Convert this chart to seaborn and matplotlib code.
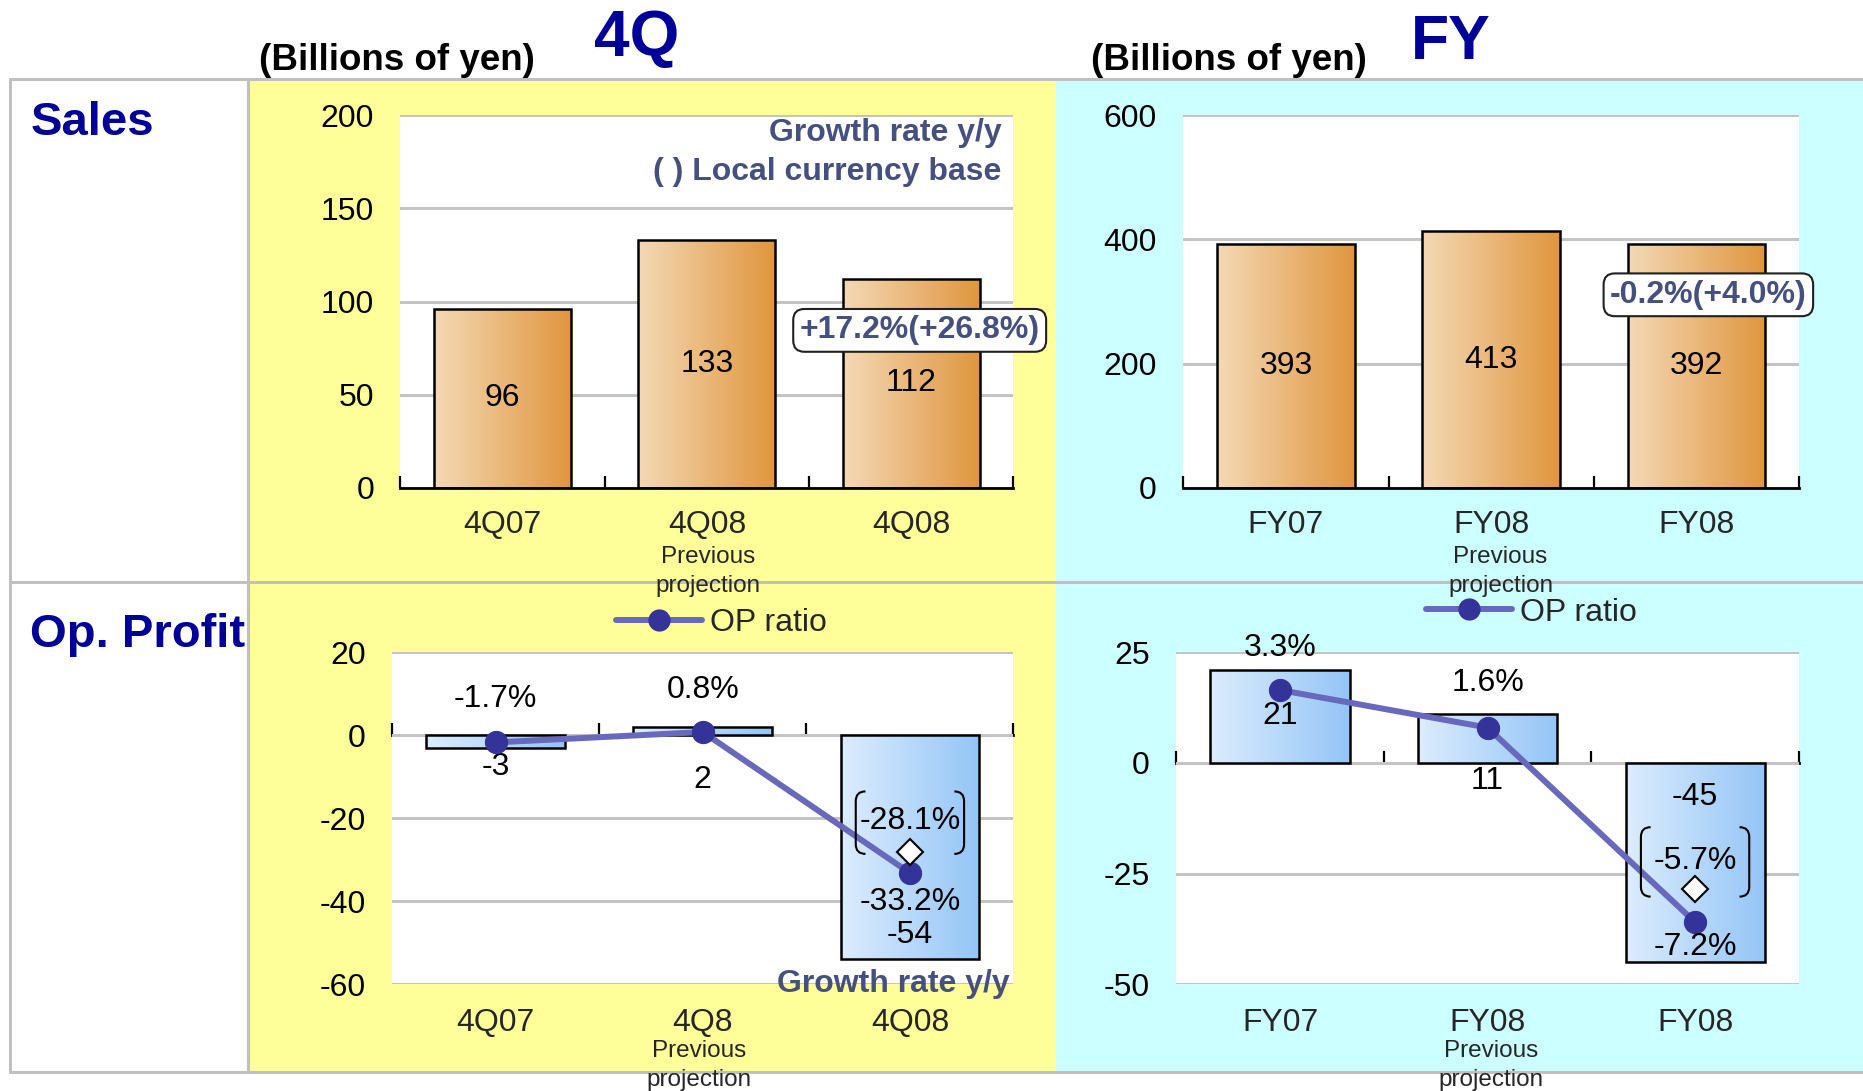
import numpy as np
import matplotlib
matplotlib.use("Agg")
import matplotlib.pyplot as plt
import seaborn as sns
from matplotlib.colors import LinearSegmentedColormap
from matplotlib.path import Path
from matplotlib.patches import PathPatch, Rectangle
from matplotlib.lines import Line2D
import matplotlib.transforms as mtransforms

# ---------------- data ----------------
q_sales_labels = ["4Q07", "4Q08", "4Q08"]
q_sales = [96, 133, 112]
q_sales_growth = "+17.2%(+26.8%)"

q_op_labels = ["4Q07", "4Q8", "4Q08"]
q_op = [-3, 2, -54]
q_op_ratio = [-1.7, 0.8, -33.2]
q_op_ratio_prev = -28.1

fy_labels = ["FY07", "FY08", "FY08"]
fy_sales = [393, 413, 392]
fy_sales_growth = "-0.2%(+4.0%)"

fy_op = [21, 11, -45]
fy_op_ratio = [3.3, 1.6, -7.2]
fy_op_ratio_prev = -5.7

sub_label = ["Previous", "projection"]

# ---------------- style ----------------
sns.set_theme(style="white")
plt.rcParams["font.family"] = ["Liberation Sans", "DejaVu Sans"]
plt.rcParams["axes.unicode_minus"] = False

FS = 23
NAVY = "#000099"
SLATE = "#46507e"
LINE_C = "#6868bc"
MARK_C = "#333399"
GRID_C = "#c4c4c4"
BORDER_C = "#c0c0c0"

W, H = 1568, 918  # reference grid


def fx(x):
    return x / W


def fy(y):
    return 1 - y / H


def rect(x0, y0, x1, y1):
    return [fx(x0), fy(y1), fx(x1) - fx(x0), fy(y0) - fy(y1)]


fig = plt.figure(figsize=(18.63, 10.91), dpi=100)

# ---------------- table background ----------------
for (x0, x1, c) in [(8, 208.5, "white"), (208.5, 889, "#ffff99"), (889, 1568, "#ccffff")]:
    fig.add_artist(Rectangle((fx(x0), fy(902)), fx(x1) - fx(x0), fy(66.7) - fy(902),
                             transform=fig.transFigure, fc=c, ec="none", zorder=-5))
for yy in (66.7, 490, 902):
    fig.add_artist(Line2D([fx(8), 1], [fy(yy), fy(yy)], transform=fig.transFigure,
                          color=BORDER_C, lw=2.2, zorder=-4))
for xx in (8, 208.5):
    fig.add_artist(Line2D([fx(xx), fx(xx)], [fy(66.7), fy(902)], transform=fig.transFigure,
                          color=BORDER_C, lw=2.2, zorder=-4))


def gradient_bars(ax, colors):
    cmap = LinearSegmentedColormap.from_list("g", colors)
    grad = np.linspace(0, 1, 256).reshape(1, -1)
    for p in list(ax.patches):
        x0, y0 = p.get_x(), p.get_y()
        w, h = p.get_width(), p.get_height()
        im = ax.imshow(grad, extent=[x0, x0 + w, min(y0, y0 + h), max(y0, y0 + h)],
                       cmap=cmap, aspect="auto", zorder=p.get_zorder(), interpolation="bilinear")
        im.set_clip_path(p)
        p.set_facecolor("none")
        p.set_zorder(p.get_zorder() + 0.1)


def style_axes(ax, yticks, ylim):
    ax.set_facecolor("white")
    for s in ["left", "right", "top"]:
        ax.spines[s].set_visible(False)
    ax.set_xlim(-0.5, 2.5)
    ax.set_ylim(*ylim)
    ax.set_yticks(yticks)
    ax.yaxis.grid(True, color=GRID_C, lw=2.2)
    ax.xaxis.grid(False)
    ax.set_axisbelow(True)
    ax.tick_params(axis="y", length=0, pad=19, labelsize=FS, colors="black")
    ax.set_xlabel("")
    ax.set_ylabel("")


def sales_panel(pos, values, labels, yticks, ylim, growth, box_xy):
    ax = fig.add_axes(rect(*pos))
    n = len(values)
    sns.barplot(x=list(range(n)), y=values, ax=ax, color="#e8b070", width=0.67,
                edgecolor="black", linewidth=1.8, saturation=1)
    ax.bar_label(ax.containers[0], labels=[str(v) for v in values], label_type="center",
                 fontsize=FS, color="black")
    gradient_bars(ax, ["#f4d9b6", "#e0963e"])
    style_axes(ax, yticks, ylim)
    ax.spines["bottom"].set_color("black")
    ax.spines["bottom"].set_linewidth(2)
    ax.set_xticks(range(n), labels)
    ax.set_xticks(np.arange(n + 1) - 0.5, minor=True)
    ax.tick_params(axis="x", which="major", length=0, pad=16, labelsize=FS)
    ax.tick_params(axis="x", which="minor", bottom=True, direction="in", length=8.6,
                   width=1.6, color="black")
    ax.text(box_xy[0], box_xy[1], growth, transform=ax.transAxes, ha="center", va="center",
            fontsize=FS, weight="bold", color=SLATE,
            bbox=dict(boxstyle="round,pad=0.2,rounding_size=0.35", fc="white",
                      ec="#202020", lw=1.5))
    return ax


def bracket(ax, x, y, dy, hw, hh, r=7):
    trans = mtransforms.Affine2D().scale(fig.dpi / 72) + \
        mtransforms.ScaledTranslation(x, y, ax.transData)
    for sgn in (-1, 1):
        X = sgn * hw
        verts = [(X - sgn * r, dy + hh), (X, dy + hh), (X, dy + hh - r),
                 (X, dy - hh + r), (X, dy - hh), (X - sgn * r, dy - hh)]
        codes = [Path.MOVETO, Path.CURVE3, Path.CURVE3, Path.LINETO, Path.CURVE3, Path.CURVE3]
        fig.add_artist(PathPatch(Path(verts, codes), transform=trans, fc="none",
                                 ec="black", lw=1.5, zorder=3))


def op_panel(pos, values, labels, ratios, prev, yticks, ylim, ylim2,
             val_offsets, ratio_offsets, prev_offset, br_hh, legend_xy):
    ax = fig.add_axes(rect(*pos))
    n = len(values)
    sns.barplot(x=list(range(n)), y=values, ax=ax, color="#bcdcfa", width=0.67,
                edgecolor="black", linewidth=1.8, saturation=1)
    gradient_bars(ax, ["#dcedfd", "#94c5f7"])
    style_axes(ax, yticks, ylim)
    ax.spines["bottom"].set_visible(False)
    ax.set_xticks(range(n), labels)
    ax.tick_params(axis="x", which="major", length=0, pad=17, labelsize=FS)
    # zero line with category-boundary ticks
    sec = ax.secondary_xaxis((0 - ylim[0]) / (ylim[1] - ylim[0]))
    sec.set_xticks(np.arange(n + 1) - 0.5)
    sec.tick_params(axis="x", which="both", top=True, bottom=False, labeltop=False,
                    labelbottom=False, direction="out", length=8.6, width=1.6, color="black")
    for s in sec.spines.values():
        s.set_color("black")
        s.set_linewidth(2)
    for i, v in enumerate(values):
        ax.annotate(str(v), xy=(i, v), xytext=(0, val_offsets[i]), textcoords="offset points",
                    ha="center", va="center", fontsize=FS, color="black")

    ax2 = ax.twinx()
    sns.lineplot(x=list(range(n)), y=ratios, ax=ax2, color=LINE_C, lw=4.3, marker="o",
                 markersize=16, markerfacecolor=MARK_C, markeredgecolor=MARK_C, sort=False)
    ax2.plot([n - 1], [prev], ls="none", marker="D", ms=13, mfc="white", mec="black",
             mew=1.5)
    ax2.set_ylim(*ylim2)
    ax2.set_xlim(-0.5, 2.5)
    ax2.set_yticks([])
    ax2.set_ylabel("")
    for s in ax2.spines.values():
        s.set_visible(False)
    for i, r in enumerate(ratios):
        ax2.annotate(f"{r:.1f}%", xy=(i, r), xytext=(0, ratio_offsets[i]),
                     textcoords="offset points", ha="center", va="center", fontsize=FS,
                     color="black")
    ax2.annotate(f"{prev:.1f}%", xy=(n - 1, prev), xytext=(0, prev_offset),
                 textcoords="offset points", ha="center", va="center", fontsize=FS,
                 color="black")
    bracket(ax2, n - 1, prev, prev_offset - 1, 39, br_hh)

    h = Line2D([], [], color=LINE_C, lw=4.3, marker="o", ms=15, mfc=MARK_C, mec=MARK_C)
    fig.legend([h], ["OP ratio"], loc="center left", bbox_to_anchor=legend_xy,
               frameon=False, fontsize=FS, handlelength=2.7, handletextpad=0.25,
               borderpad=0, borderaxespad=0)
    return ax, ax2


# ---------------- panels ----------------
ax_qs = sales_panel((337, 97, 853, 410.4), q_sales, q_sales_labels, [0, 50, 100, 150, 200],
                    (0, 200), q_sales_growth, (0.847, 0.4225))
ax_qs.text(0.981, 0.953, "Growth rate y/y", transform=ax_qs.transAxes, ha="right",
           va="center", fontsize=FS, weight="bold", color=SLATE)
ax_qs.text(0.981, 0.847, "( ) Local currency base", transform=ax_qs.transAxes, ha="right",
           va="center", fontsize=FS, weight="bold", color=SLATE)

ax_fs = sales_panel((996, 97, 1514, 410.4), fy_sales, fy_labels, [0, 200, 400, 600],
                    (0, 600), fy_sales_growth, (0.853, 0.518))

ax_qo, _ = op_panel((330, 549, 853, 828), q_op, q_op_labels, q_op_ratio, q_op_ratio_prev,
                    [-60, -40, -20, 0, 20], (-60, 20), (-60, 20),
                    val_offsets=[-14, -38, 17.5], ratio_offsets=[31, 30, -21],
                    prev_offset=22, br_hh=22.5, legend_xy=(fx(518.5), fy(524)))
ax_qo.text(0.994, 0.0, "Growth rate y/y", transform=ax_qo.transAxes, ha="right",
           va="center", fontsize=FS, weight="bold", color=SLATE)

ax_fo, _ = op_panel((990, 549, 1514, 828), fy_op, fy_labels, fy_op_ratio, fy_op_ratio_prev,
                    [-50, -25, 0, 25], (-50, 25), (-10, 5),
                    val_offsets=[-33, -48, 119], ratio_offsets=[30, 32, -18],
                    prev_offset=20.5, br_hh=25, legend_xy=(fx(1200), fy(515.5)))

# ---------------- sub labels ----------------
for (cx, b1) in [(596, 473.5), (1263, 473.5), (588, 889), (1255, 889)]:
    fig.text(fx(cx), fy(b1), sub_label[0], ha="center", va="baseline", fontsize=17.5)
    fig.text(fx(cx), fy(b1 + 24.5), sub_label[1], ha="center", va="baseline", fontsize=17.5)

# ---------------- titles ----------------
fig.text(fx(334), fy(58.5), "(Billions of yen)", ha="center", va="baseline", fontsize=26.5,
         weight="bold", color="black")
fig.text(fx(1034), fy(58.5), "(Billions of yen)", ha="center", va="baseline", fontsize=26.5,
         weight="bold", color="black")
fig.text(fx(536), fy(47.5), "4Q", ha="center", va="baseline", fontsize=46, weight="bold",
         color=NAVY)
fig.text(fx(1221), fy(49.5), "FY", ha="center", va="baseline", fontsize=45, weight="bold",
         color=NAVY)
fig.text(fx(25.5), fy(114), "Sales", ha="left", va="baseline", fontsize=34, weight="bold",
         color=NAVY)
fig.text(fx(25), fy(544), "Op. Profit", ha="left", va="baseline", fontsize=34, weight="bold",
         color=NAVY)

fig.savefig("out.png", dpi=100, facecolor="white")
